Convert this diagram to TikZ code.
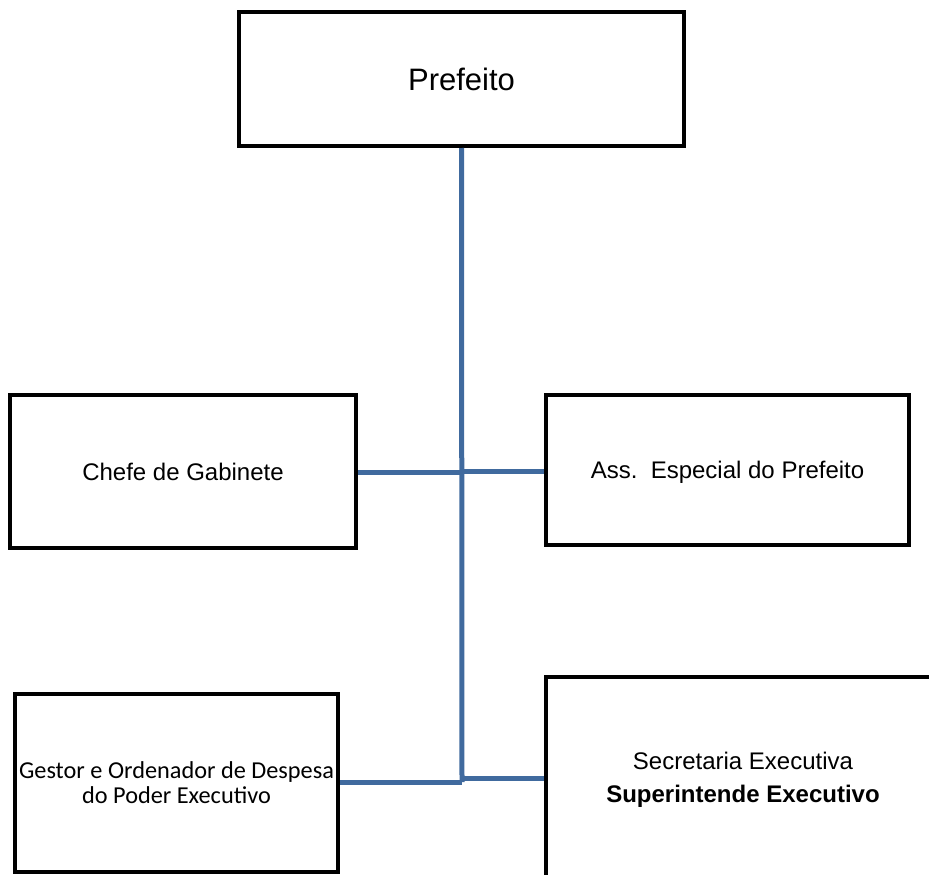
\documentclass[tikz,border=0pt]{standalone}
\usepackage{fontspec}
\setmainfont{Liberation Sans}
\newfontfamily\calibrifont{Carlito}
\definecolor{linkblue}{RGB}{64,106,158}
\begin{document}
\begin{tikzpicture}[x=1pt,y=-1pt,
  orgbox/.style={draw=black,line width=4pt,fill=white,rectangle,inner sep=0pt,align=center},
  link/.style={draw=linkblue,line width=5pt}]
\useasboundingbox (0,0) rectangle (929,875);
\clip (0,0) rectangle (929,875);
\coordinate (j1l) at (462,472);
\coordinate (j1r) at (462,471);
\coordinate (j2l) at (462,782);
\coordinate (j2r) at (462,778);
\node[orgbox,minimum width=445pt,minimum height=134pt,font=\fontsize{31}{36}\selectfont] (pref) at (461.5,79) {Prefeito};
\node[orgbox,minimum width=346pt,minimum height=153pt,font=\fontsize{24}{28}\selectfont] (chefe) at (183,471.5) {Chefe de Gabinete};
\node[orgbox,minimum width=363pt,minimum height=150pt,font=\fontsize{24}{28}\selectfont,text depth=1pt] (ass) at (727.5,470) {Ass.\ \ Especial do Prefeito};
\node[orgbox,minimum width=323pt,minimum height=178pt,font=\calibrifont\fontsize{24.3}{25}\selectfont] (gestor) at (176.5,783) {Gestor e Ordenador de Despesa\\do Poder Executivo};
\node[orgbox,minimum width=394pt,minimum height=205pt,font=\fontsize{24}{33}\selectfont] (secr) at (743,779.5) {Secretaria Executiva\\\textbf{Superintende Executivo}};
\draw[link] (pref.south) -- (j2l);
\draw[link] (chefe.east |- j1l) -- (j1l);
\draw[link] (j1r) -- (ass.west |- j1r);
\draw[link] (gestor.east |- j2l) -- (j2l);
\draw[link] (j2r) -- (secr.west |- j2r);
\end{tikzpicture}
\end{document}
